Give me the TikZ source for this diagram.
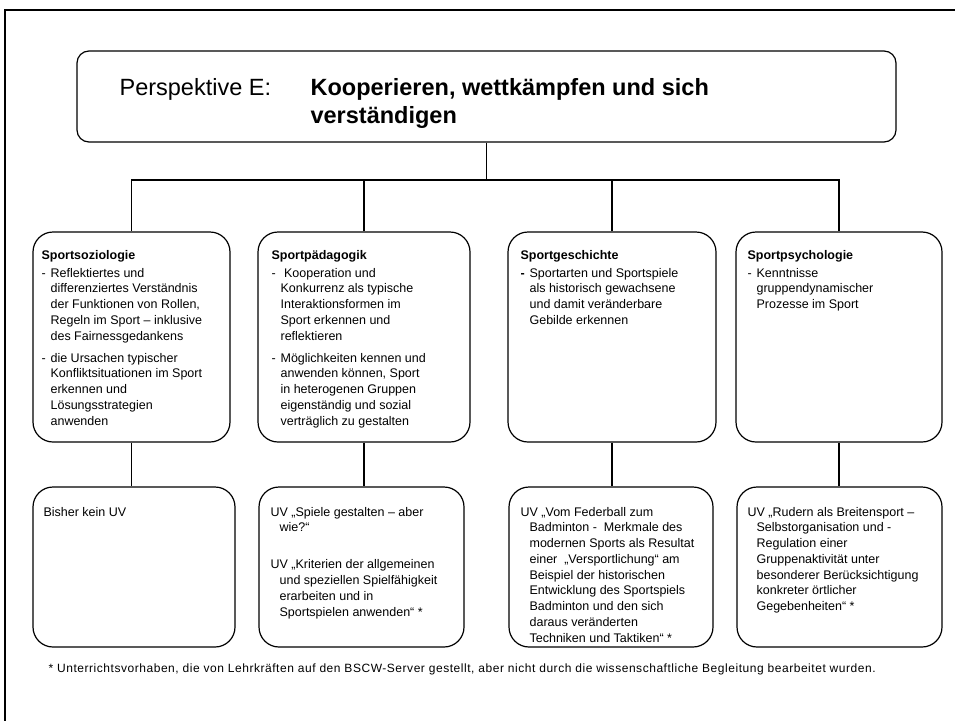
\documentclass[tikz,border=0pt]{standalone}
\usepackage{fontspec}
\setmainfont{Liberation Sans}
\newcommand{\ein}{\hspace*{9pt}}
\newcommand{\strich}{\makebox[9pt][l]{-}}
\begin{document}
\begin{tikzpicture}[x=1pt, y=-1pt, line width=1.2pt,
  every node/.style={font=\fontsize{12.5}{15.75}\selectfont, inner sep=0pt},
  kbox/.style={draw, rounded corners=20pt, minimum height=210pt},
  ubox/.style={draw, rounded corners=20pt, minimum height=160pt},
  txt/.style={anchor=north west, align=left}]
  \useasboundingbox (0,0) rectangle (955,720);
  \draw[line width=2.5pt] (5,10) rectangle (970,740);
  % Perspektive
  \node[draw, rounded corners=12pt, minimum width=819pt, minimum height=91pt] (top) at (486.5,96.5) {};
  \node[anchor=base west, font=\fontsize{23.5}{28}\selectfont] (persp) at (119,95) {Perspektive E:};
  \node[txt, font=\fontsize{23.5}{28}\selectfont\bfseries] (thema) at (310,78) {Kooperieren, wettkämpfen und sich\\verständigen};
  % Fachbereiche
  \node[kbox, minimum width=197pt] (soz) at (131.5,337) {};
  \node[kbox, minimum width=212pt] (paed) at (364,337) {};
  \node[kbox, minimum width=208pt] (gesch) at (612,337) {};
  \node[kbox, minimum width=206pt] (psy) at (839,337) {};
  \coordinate (hub) at (486.5,180);
  \draw (top.south) -- (hub);
  \draw (soz.north) |- (hub) -| (psy.north);
  \draw (paed.north) -- (paed.north |- hub);
  \draw (gesch.north) -- (gesch.north |- hub);
  \node[txt] (sozT) at (41,249.5) {\textbf{Sportsoziologie}\\[2.25pt]
    \strich Reflektiertes und\\ \ein differenziertes Verständnis\\ \ein der Funktionen von Rollen,\\
    \ein Regeln im Sport – inklusive\\ \ein des Fairnessgedankens\\[6.25pt]
    \strich die Ursachen typischer\\ \ein Konfliktsituationen im Sport\\ \ein erkennen und\\
    \ein Lösungsstrategien\\ \ein anwenden};
  \node[txt] (paedT) at (271,249.5) {\textbf{Sportpädagogik}\\[2.25pt]
    \strich\ Kooperation und\\ \ein Konkurrenz als typische\\ \ein Interaktionsformen im\\
    \ein Sport erkennen und\\ \ein reflektieren\\[6.25pt]
    \strich Möglichkeiten kennen und\\ \ein anwenden können, Sport\\ \ein in heterogenen Gruppen\\
    \ein eigenständig und sozial\\ \ein verträglich zu gestalten};
  \node[txt] (geschT) at (520,249.5) {\textbf{Sportgeschichte}\\[2.25pt]
    \textbf{\strich}Sportarten und Sportspiele\\ \ein als historisch gewachsene\\
    \ein und damit veränderbare\\ \ein Gebilde erkennen};
  \node[txt] (psyT) at (747,249.5) {\textbf{Sportpsychologie}\\[2.25pt]
    \strich Kenntnisse\\ \ein gruppendynamischer\\ \ein Prozesse im Sport};
  % Unterrichtsvorhaben
  \node[ubox, minimum width=202pt] (uv1) at (134,567) {};
  \node[ubox, minimum width=205pt] (uv2) at (361.5,567) {};
  \node[ubox, minimum width=204pt] (uv3) at (611,567) {};
  \node[ubox, minimum width=205pt] (uv4) at (839.5,567) {};
  \draw (soz.south) -- (soz.south |- uv1.north);
  \draw (paed.south) -- (paed.south |- uv2.north);
  \draw (gesch.south) -- (gesch.south |- uv3.north);
  \draw (psy.south) -- (psy.south |- uv4.north);
  \node[txt] (uv1T) at (43,506.5) {Bisher kein UV};
  \node[txt] (uv2T) at (270,506.5) {UV „Spiele gestalten – aber\\ \ein wie?“\\[21.25pt]
    UV „Kriterien der allgemeinen\\ \ein und speziellen Spielfähigkeit\\ \ein erarbeiten und in\\
    \ein Sportspielen anwenden“ *};
  \node[txt] (uv3T) at (520,506.5) {UV „Vom Federball zum\\ \ein Badminton -\ \ Merkmale des\\
    \ein modernen Sports als Resultat\\ \ein einer \ „Versportlichung“ am\\
    \ein Beispiel der historischen\\ \ein Entwicklung des Sportspiels\\
    \ein Badminton und den sich\\ \ein daraus veränderten\\ \ein Techniken und Taktiken“ *};
  \node[txt] (uv4T) at (747,506.5) {UV „Rudern als Breitensport –\\ \ein Selbstorganisation und -\\
    \ein Regulation einer\\ \ein Gruppenaktivität unter\\ \ein besonderer Berücksichtigung\\
    \ein konkreter örtlicher\\ \ein Gegebenheiten“ *};
  \node[anchor=base west, font=\fontsize{12}{14}\selectfont\addfontfeatures{LetterSpace=4.5}] (fussnote) at (48,672) {* Unterrichtsvorhaben, die von Lehrkräften auf den BSCW-Server gestellt, aber nicht durch die wissenschaftliche Begleitung bearbeitet wurden.};
\end{tikzpicture}
\end{document}
